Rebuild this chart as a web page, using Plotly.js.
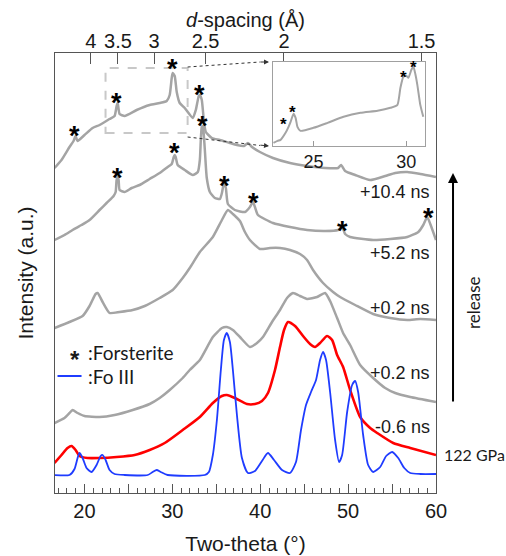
<!DOCTYPE html>
<html><head><meta charset="utf-8">
<script src="https://cdn.plot.ly/plotly-3.0.1.min.js"></script>
<style>body{margin:0;background:#fff}#chart{width:506px;height:556px}</style>
</head><body><div id="chart"></div>
<script>
// ---- +10.4 ns (offset intensity, a.u.) ----
const tt104 = [16.6,17.39,18.3,18.76,18.99,19.22,20.01,20.93,21.72,22.86,23.43,23.66,23.78,24.0,24.57,25.94,27.42,28.56,29.36,29.7,29.93,30.04,30.27,30.5,30.84,31.41,32.33,32.67,33.01,33.13,33.35,33.58,33.81,34.5,35.41,36.55,37.35,38.15,38.6,39.06,39.97,41.45,43.39,45.33,47.38,48.86,49.2,49.66,50.8,52.51,54.22,55.36,56.73,58.21,60.0];
const I104 = [325,333,346,352,357,352,358,365,368,374,377,387,390,379,377,383,388,390,392,398,415,420,417,401,390,385,375,383,397,398,393,373,361,355,353,350,348,347,350,346,341,335,330,327,325,325,328,322,318,313,317,320,321,319,316];
// ---- +5.2 ns ----
const tt52 = [16.6,17.73,18.65,19.67,20.58,21.72,22.52,23.32,23.55,23.66,23.78,23.89,24.0,24.57,25.37,26.28,27.42,28.56,29.47,29.93,30.16,30.27,30.38,30.61,31.41,32.33,32.9,33.13,33.24,33.35,33.47,33.58,33.7,33.92,34.27,34.84,35.41,35.64,35.87,36.09,36.32,37.12,38.26,38.83,39.17,39.4,39.74,41.45,43.39,45.33,47.38,48.86,49.32,49.66,50.23,52.85,54.79,56.73,57.99,58.55,59.0,59.35,60.0];
const I52 = [253,258,263,268,273,283,290,297,301,313,316,313,303,301,305,308,314,320,326,329,336,338,336,328,323,318,321,333,353,366,367,358,343,315,301,295,294,300,310,305,289,283,281,286,291,286,278,270,266,263,262,263,266,259,256,253,254,256,261,268,276,269,253];
// ---- +0.2 ns (upper) ----
const tt02a = [16.6,18.3,19.79,20.58,21.27,21.5,22.07,22.86,24.0,25.49,26.86,28.56,30.04,31.18,31.98,33.13,34.61,35.64,36.32,36.89,37.69,38.26,38.83,39.97,41.11,42.25,43.39,44.53,45.33,46.01,47.15,48.29,49.09,50.8,52.85,54.79,56.73,58.21,60.0];
const I02a = [165,171,177,187,199,200,191,180,181,183,187,195,203,215,225,241,256,273,283,279,272,261,253,244,245,245,243,239,233,223,210,201,196,188,179,175,173,174,173];
// ---- +0.2 ns (lower) ----
const tt02b = [16.6,17.73,18.3,18.65,19.22,20.01,21.72,23.43,25.49,27.42,28.56,29.7,31.18,31.98,33.13,34.61,35.64,36.2,36.89,37.69,38.83,39.63,40.31,41.34,42.25,43.05,43.73,44.53,45.33,46.47,47.38,47.95,48.75,49.43,50.23,51.37,52.85,54.22,55.36,57.07,60.0];
const I02b = [70,75,80,83,80,77,76,78,83,89,95,103,115,123,133,156,165,166,163,156,146,150,156,171,183,195,200,197,194,196,200,192,175,160,148,128,115,105,100,96,91];
// ---- -0.6 ns, 122 GPa ----
const ttm06 = [16.6,17.39,18.08,18.53,18.99,19.44,20.35,21.72,23.66,25.71,27.42,29.13,31.18,33.13,34.61,35.64,36.2,37.12,38.49,39.4,40.2,40.88,41.68,42.25,42.71,43.16,43.96,44.87,45.67,46.24,46.81,47.61,48.18,48.75,49.43,50.23,51.37,52.51,53.31,55.13,57.07,60.0];
const Im06 = [30,38,45,47,43,37,35,35,36,38,43,50,63,76,90,97,98,95,89,89,92,100,123,146,163,171,167,157,149,146,150,157,153,138,126,103,76,65,60,50,45,38];
// ---- Fo III reference pattern ----
const ttFo3 = [16.6,18.3,18.87,19.22,19.44,19.79,20.24,20.81,21.38,21.84,22.07,22.41,22.86,23.43,24.57,27.2,27.77,28.22,28.68,29.47,33.7,34.16,34.61,35.07,35.52,35.87,36.2,36.55,36.89,37.35,37.92,38.6,39.4,40.2,40.88,41.57,42.48,43.39,44.07,44.64,45.21,45.78,46.35,46.81,47.15,47.49,47.95,48.52,48.97,49.32,49.89,50.46,50.8,51.14,51.71,52.28,52.85,53.65,54.33,55.02,55.7,56.39,57.07,58.21,60.0];
const IFo3 = [18,18,24,35,40,35,25,21,28,37,38,33,23,19,18,18,21,23,21,18,18,21,38,73,123,153,160,151,123,78,35,20,22,32,40,33,23,20,31,63,88,101,113,133,141,133,101,53,31,38,81,108,112,101,58,28,21,26,37,41,35,25,20,19,19];
// ---- inset: +10.4 ns, 22.8-31 deg ----
const ttInset = [22.85,23.07,23.23,23.5,23.66,23.77,23.93,24.04,24.14,24.3,25.0,25.76,26.62,27.53,28.45,29.14,29.52,29.68,29.84,30.0,30.11,30.27,30.38,30.48,30.59,30.75,30.91];
const IInset = [3,5,6,13,19,24,32,28,19,15,18,23,29,33,35,38,41,58,69,70,68,76,79,72,61,41,29];
// ---- forsterite peak markers ----
const forstX = [18.87,23.66,30.04,33.13,33.47,23.78,30.27,35.98,39.29,49.32,59.12];
const forstY = [365,398,432,406,375,323,348,315,298,270,283];
const forstInsetX = [23.39,23.88,29.84,30.38];
const forstInsetY = [26,38,73,83];
// ---- axis ticks ----
const unlabeledTicks = {'25':' ', '35':' ', '45':' ', '55':' '};
const dSpacingText = ['4','3.5','3','2.5','2','1.5'];
const dSpacingPos = [20.73,23.81,27.92,33.78,42.7,58.36];
const insetTickVals = [25,30];
const curveLabels = ['+10.4 ns','+5.2 ns','+0.2 ns','+0.2 ns','-0.6 ns'];

const GRAY = '#a4a4a4', TXT = '#1a1a1a', FRAME = '#555';
const px2x = p => (p-55.5)/380.5, py2y = p => (493-p)/440;
const gl = (x,y) => ({x:x, y:y, type:'scatter', mode:'lines', line:{color:GRAY, width:2.5, shape:'spline', smoothing:0.5}, hoverinfo:'skip', showlegend:false});
const traces = [
  gl(tt104, I104), gl(tt52, I52), gl(tt02a, I02a), gl(tt02b, I02b),
  {x:ttm06, y:Im06, type:'scatter', mode:'lines', line:{color:'#ff0000', width:2.6, shape:'spline', smoothing:0.6}, showlegend:false},
  {x:ttFo3, y:IFo3, type:'scatter', mode:'lines', line:{color:'#1f3cff', width:1.8, shape:'spline', smoothing:0.6}, showlegend:false},
  {x:ttInset, y:IInset, xaxis:'x3', yaxis:'y3', type:'scatter', mode:'lines', line:{color:GRAY, width:2, shape:'spline', smoothing:0.5}, showlegend:false},
  {x:[dSpacingPos[0]], y:[-10], xaxis:'x2', yaxis:'y', mode:'markers', marker:{opacity:0}, showlegend:false, hoverinfo:'skip'}
];

const ann = [];
const txt = (x, y, text, size, fam, extra) => Object.assign({x:x, y:y, xref:'paper', yref:'paper', xanchor:'center', yanchor:'middle', text:text, showarrow:false, font:{family:fam, size:size, color:TXT}}, extra||{});
forstX.forEach((x,i)=>ann.push({x:x, y:forstY[i], xref:'x', yref:'y', xanchor:'center', yanchor:'middle', text:'<b>*</b>', showarrow:false, yshift:-8, font:{family:'Liberation Sans', size:27, color:'#000'}}));
forstInsetX.forEach((x,i)=>ann.push({x:x, y:forstInsetY[i], xref:'x3', yref:'y3', xanchor:'center', yanchor:'middle', text:'<b>*</b>', showarrow:false, yshift:-5, font:{family:'Liberation Sans', size:17, color:'#000'}}));
const labY = [192,253,308,373,427];
curveLabels.forEach((t,i)=>ann.push(txt(px2x(432), py2y(labY[i]), t, 18, 'Liberation Sans', {xanchor:'right'})));
ann.push(txt(px2x(442), py2y(454), '122 GPa', 16, 'Lato', {xanchor:'left'}));
// legend
ann.push(txt(px2x(75), py2y(352), '<b>*</b>', 24, 'Liberation Sans', {yshift:-7}));
ann.push(txt(px2x(86), py2y(352), ':Forsterite', 19, 'Lato', {xanchor:'left'}));
ann.push(txt(px2x(86), py2y(376), ':Fo III', 19, 'Lato', {xanchor:'left'}));
// release arrow
ann.push({x:px2x(453), y:py2y(173), xref:'paper', yref:'paper', ax:0, ay:230, axref:'pixel', ayref:'pixel', text:'', showarrow:true, arrowhead:2, arrowsize:1, arrowwidth:2, arrowcolor:'#000'});
ann.push(txt(px2x(473), py2y(303), 'release', 17, 'Lato', {textangle:-90}));
// top axis title
ann.push(txt(px2x(246), py2y(20), '<i>d</i>-spacing (Å)', 20, 'Liberation Sans'));
// zoom arrows heads
ann.push({x:41.0, y:431, xref:'x', yref:'y', ax:-10, ay:0, text:'', showarrow:true, arrowhead:2, arrowsize:1, arrowwidth:1, arrowcolor:'#333'});
ann.push({x:41.0, y:347, xref:'x', yref:'y', ax:-10, ay:-1, text:'', showarrow:true, arrowhead:2, arrowsize:1, arrowwidth:1, arrowcolor:'#333'});

const shapes = [
  {type:'rect', xref:'x', yref:'y', x0:22.4, x1:31.74, y0:360, y1:425, line:{color:'#c8c8c8', width:2, dash:'dash'}},
  {type:'line', xref:'x', yref:'y', x0:31.74, y0:426, x1:40.0, y1:431, line:{color:'#333', width:1, dash:'dot'}},
  {type:'line', xref:'x', yref:'y', x0:31.74, y0:356, x1:40.0, y1:347.5, line:{color:'#333', width:1, dash:'dot'}},
  {type:'line', xref:'paper', yref:'paper', x0:px2x(58), x1:px2x(82), y0:py2y(376), y1:py2y(376), line:{color:'#1f3cff', width:2}}
];

const layout = {
  width:506, height:556, margin:{l:55, r:70, t:53, b:63, pad:0},
  paper_bgcolor:'#fff', plot_bgcolor:'#fff', showlegend:false,
  font:{family:'Liberation Sans', color:TXT},
  xaxis:{domain:[0,1], range:[16.65,60], tickmode:'linear', tick0:0, dtick:5, labelalias:unlabeledTicks,
    ticks:'inside', ticklen:9, tickwidth:1, tickcolor:FRAME,
    minor:{tickmode:'linear', tick0:0, dtick:1, ticks:'inside', ticklen:5, tickwidth:1, tickcolor:FRAME, showgrid:false},
    showline:true, linecolor:FRAME, linewidth:1, mirror:true, showgrid:false, zeroline:false,
    tickfont:{family:'Liberation Sans', size:20, color:TXT},
    title:{text:'Two-theta (°)', font:{family:'Liberation Sans', size:21, color:TXT}, standoff:15}},
  yaxis:{domain:[0,1], range:[0,440], showticklabels:false, ticks:'', showline:true, linecolor:FRAME, mirror:true, showgrid:false, zeroline:false,
    title:{text:'Intensity (a.u.)', font:{family:'Liberation Sans', size:21, color:TXT}, standoff:14}},
  xaxis2:{overlaying:'x', side:'top', anchor:'y', range:[16.65,60], tickmode:'array', tickvals:dSpacingPos, ticktext:dSpacingText,
    ticks:'inside', ticklen:11, tickcolor:FRAME, showline:false, showgrid:false, zeroline:false,
    tickfont:{family:'Liberation Sans', size:20, color:TXT}},
  xaxis3:{domain:[0.571,0.971], anchor:'y3', range:[22.8,31.0], tickmode:'array', tickvals:insetTickVals, ticks:'inside', ticklen:5, tickcolor:'#999',
    showline:true, linecolor:'#a0a0a0', mirror:true, showgrid:false, zeroline:false, tickfont:{family:'Liberation Sans', size:18, color:TXT}},
  yaxis3:{domain:[0.789,0.98], anchor:'x3', range:[0,84], showticklabels:false, ticks:'', showline:true, linecolor:'#a0a0a0', mirror:true, showgrid:false, zeroline:false},
  annotations:ann, shapes:shapes
};
Plotly.newPlot('chart', traces, layout, {staticPlot:true});
</script></body></html>
